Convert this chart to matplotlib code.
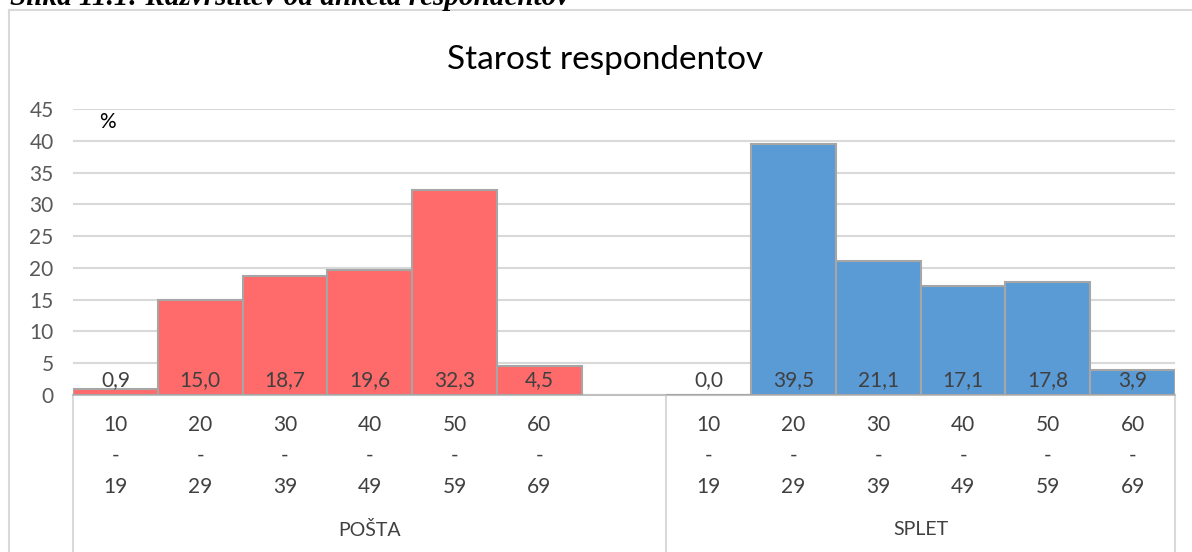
import matplotlib.pyplot as plt
from matplotlib.lines import Line2D

plt.rcParams['font.family'] = ['Lato', 'DejaVu Sans']

age_groups = ['10\n-\n19', '20\n-\n29', '30\n-\n39', '40\n-\n49', '50\n-\n59', '60\n-\n69']
posta = [0.9, 15.0, 18.7, 19.6, 32.3, 4.5]
splet = [0.0, 39.5, 21.1, 17.1, 17.8, 3.9]
groups = ['POŠTA', 'SPLET']
yticks = [0, 5, 10, 15, 20, 25, 30, 35, 40, 45]

W, H = 1192, 552
fig = plt.figure(figsize=(W / 100, H / 100), dpi=100)
ax = fig.add_axes([73 / W, 1 - 395 / H, (1175 - 73) / W, 286 / H])

# slots: 6 bars for posta, one empty slot, 6 bars for splet
x_posta = [i + 0.5 for i in range(6)]
x_splet = [i + 7.5 for i in range(6)]

ax.bar(x_posta, posta, width=1, color='#FF6B6B', edgecolor='#A6A6A6', linewidth=1.5, zorder=3)
ax.bar(x_splet, splet, width=1, color='#5B9BD5', edgecolor='#A6A6A6', linewidth=1.5, zorder=3)

for xs, vals in [(x_posta, posta), (x_splet, splet)]:
    for x, v in zip(xs, vals):
        ax.text(x, 2.4, f'{v:.1f}'.replace('.', ','), ha='center', va='center',
                fontsize=15, color='#404040', zorder=4)

ax.set_xlim(0, 13)
ax.set_ylim(0, 45)
ax.set_yticks(yticks)
ax.tick_params(axis='y', length=0, pad=14, labelsize=15, labelcolor='#595959')
ax.set_xticks([])
ax.yaxis.grid(True, color='#D9D9D9', linewidth=1.5, zorder=0)
for s in ['top', 'right', 'left']:
    ax.spines[s].set_visible(False)
ax.spines['bottom'].set_color('#BFBFBF')
ax.spines['bottom'].set_linewidth(1.5)

ax.text(0.41, 42.9, '%', ha='center', va='center', fontsize=15, color='black')

# multi-level category axis
tr = ax.get_xaxis_transform()
for xs in (x_posta, x_splet):
    for x, lab in zip(xs, age_groups):
        for k, part in enumerate(lab.split('\n')):
            ax.text(x, [-0.105, -0.213, -0.322][k], part, transform=tr, ha='center',
                    va='center', fontsize=15, color='#404040', clip_on=False)
ax.text(3.5, -0.472, groups[0], transform=tr, ha='center', va='center',
        fontsize=14, color='#404040', clip_on=False)
ax.text(10.0, -0.472, groups[1], transform=tr, ha='center', va='center',
        fontsize=14, color='#404040', clip_on=False)
for x in (0, 7, 13):
    ax.plot([x, x], [0, -0.56], transform=tr, color='#D9D9D9', linewidth=1.5, clip_on=False)

fig.text(0.508, 1 - 60 / H, 'Starost respondentov', ha='center', va='center',
         fontsize=24, color='black')

# chart frame
fig.add_artist(Line2D([9 / W, 1], [1 - 10 / H, 1 - 10 / H], color='#D9D9D9', linewidth=1.5))
fig.add_artist(Line2D([9 / W, 9 / W], [0, 1 - 10 / H], color='#D9D9D9', linewidth=1.5))

# figure caption above the chart, cut off by the top edge
fig.text(10 / W, 1 - 5 / H, 'Slika 11.1: Razvrstitev od anketa respondentov', ha='left',
         va='baseline', fontsize=21, fontweight='bold', fontstyle='italic',
         family=['Liberation Serif', 'DejaVu Serif'], color='black')

plt.savefig('out.png', dpi=100)
